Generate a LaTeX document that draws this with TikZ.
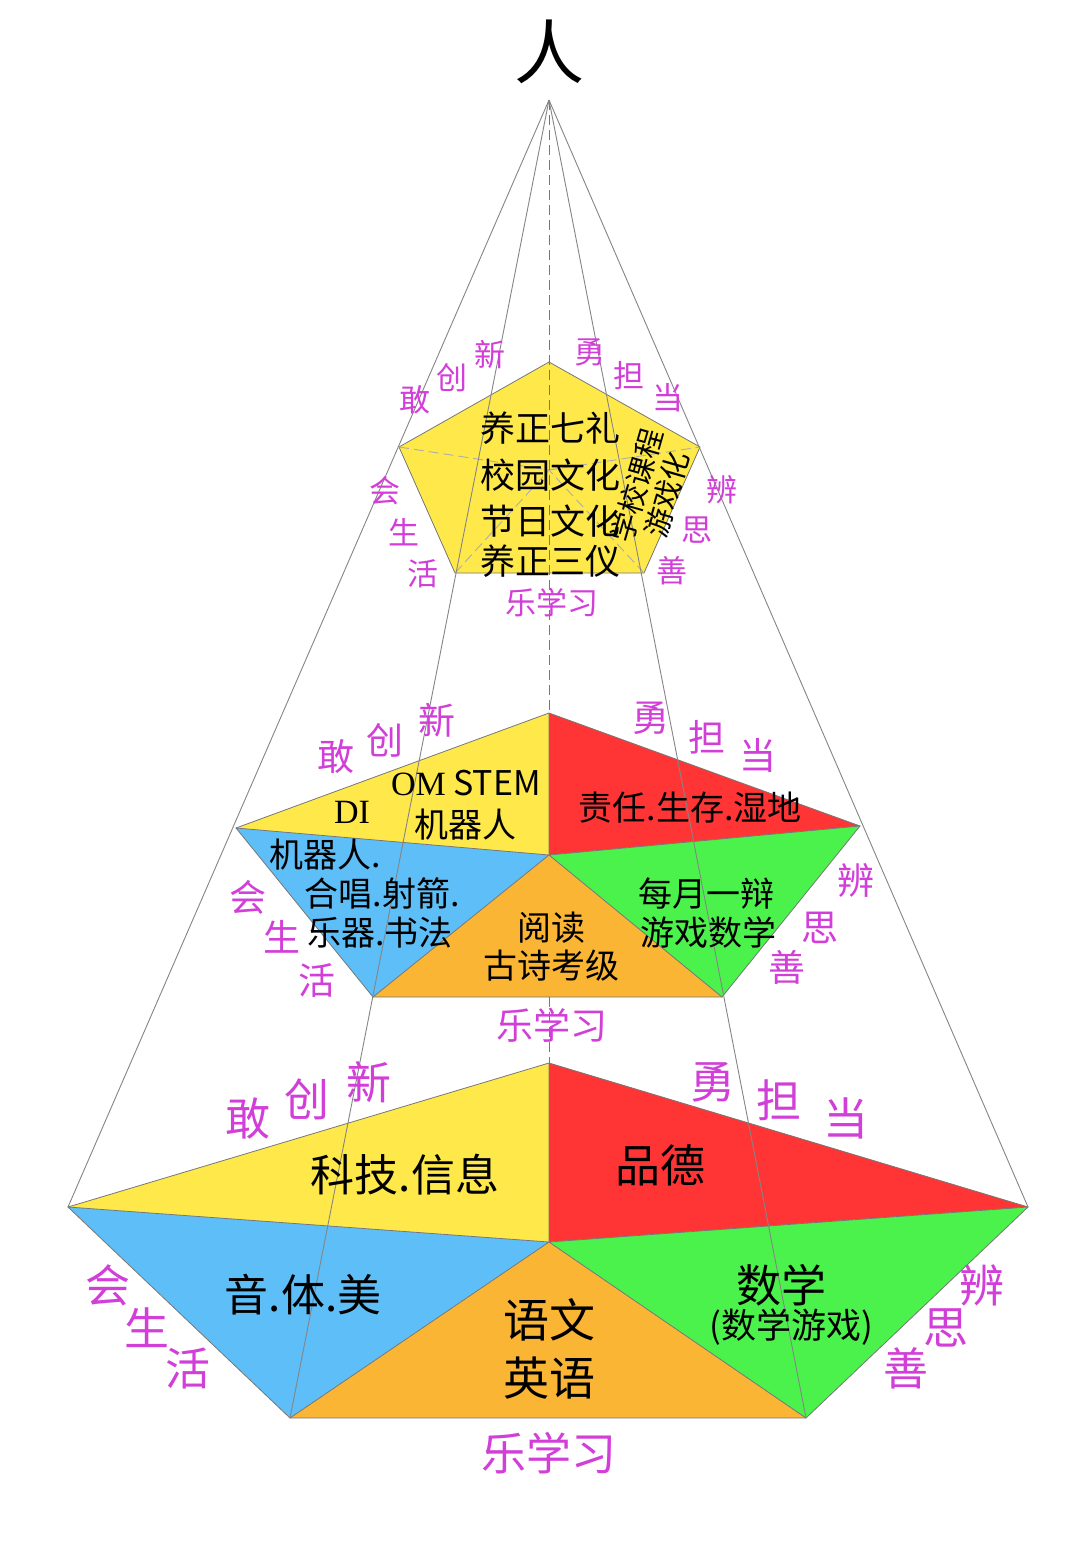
\documentclass[tikz,border=0pt]{standalone}
\usepackage{fontspec}
\setmainfont{Liberation Serif}
\newfontfamily\cjk{Noto Sans CJK SC}
\definecolor{yel}{HTML}{FFE94A}
\definecolor{redf}{HTML}{FF3535}
\definecolor{bluef}{HTML}{5EBEF8}
\definecolor{orf}{HTML}{FAB535}
\definecolor{grf}{HTML}{4CF24C}
\definecolor{mag}{HTML}{D23FD8}
\definecolor{edge}{HTML}{777777}
\tikzset{
  txt/.style={inner sep=0pt, font=\cjk\fontsize{#1}{#1}\selectfont},
  mg/.style={inner sep=0pt, text=mag, font=\cjk\fontsize{#1}{#1}\selectfont},
  side/.style={draw=edge, line width=0.8pt},
  ray/.style={draw=edge!90, line width=0.9pt},
  hid/.style={draw=edge, line width=0.9pt, dash pattern=on 10pt off 5pt},
}
\begin{document}
\begin{tikzpicture}[x=1pt,y=-1pt]
\useasboundingbox (0,0) rectangle (1080,1548);
\fill[white] (0,0) rectangle (1080,1548);
% coordinates
\coordinate (apex) at (549,100);
\coordinate (T1) at (549,1063); \coordinate (L1) at (68,1207); \coordinate (R1) at (1028,1207);
\coordinate (BL1) at (290,1418); \coordinate (BR1) at (806,1418); \coordinate (C1) at (549,1242);
\coordinate (T2) at (549,713); \coordinate (L2) at (236,828); \coordinate (R2) at (860,826);
\coordinate (BL2) at (373,997); \coordinate (BR2) at (722,997); \coordinate (C2) at (549,855);
\coordinate (M2) at (549,997);
\coordinate (T3) at (549,362); \coordinate (L3) at (399,447); \coordinate (R3) at (700,447);
\coordinate (BL3) at (455,573); \coordinate (BR3) at (644,573); \coordinate (C3) at (549,470);
% bottom pentagon
\fill[yel] (T1) -- (L1) -- (C1) -- cycle;
\fill[redf] (T1) -- (R1) -- (C1) -- cycle;
\fill[bluef] (L1) -- (BL1) -- (C1) -- cycle;
\fill[orf] (C1) -- (BL1) -- (BR1) -- cycle;
\fill[grf] (C1) -- (R1) -- (BR1) -- cycle;
\draw[side] (T1) -- (L1) -- (BL1) -- (BR1) -- (R1) -- cycle;
\draw[side] (L1) -- (C1) -- (R1) (BL1) -- (C1) -- (BR1) (T1) -- (C1);
% middle pentagon
\fill[yel] (T2) -- (L2) -- (C2) -- cycle;
\fill[redf] (T2) -- (R2) -- (C2) -- cycle;
\fill[bluef] (L2) -- (BL2) -- (C2) -- cycle;
\fill[orf] (C2) -- (BL2) -- (BR2) -- cycle;
\fill[grf] (C2) -- (R2) -- (BR2) -- cycle;
\draw[side] (T2) -- (L2) -- (BL2) -- (BR2) -- (R2) -- cycle;
\draw[side] (L2) -- (C2) -- (R2) (BL2) -- (C2) -- (BR2) (T2) -- (C2);
% top pentagon
\fill[yel] (T3) -- (L3) -- (BL3) -- (BR3) -- (R3) -- cycle;
\draw[side] (T3) -- (L3) -- (BL3) -- (BR3) -- (R3) -- cycle;
\draw[hid, draw=edge!60] (L3) -- (C3) -- (R3) (BL3) -- (C3) -- (BR3);
% rays from apex
\draw[hid] (apex) -- (T2);
\draw[hid] (M2) -- (T1);
\draw[ray] (apex) -- (L1);
\draw[ray] (apex) -- (R1);
\draw[ray] (apex) -- (BL1);
\draw[ray] (apex) -- (BR1);
% apex label
\node[txt=70] (ren) at (549,52) {人};
% top texts
\node[txt=35] (a1) at (550,428) {养正七礼};
\node[txt=35] (a2) at (550,475) {校园文化};
\node[txt=35] (a3) at (550,521) {节日文化};
\node[txt=35] (a4) at (550,561) {养正三仪};
\node[inner sep=0pt, font=\cjk\fontsize{29}{31}\selectfont, rotate=74, align=center] (a5) at (652,490) {学校课程\\游戏化};
\node[mg=31] (b1) at (415,400) {敢};
\node[mg=31] (b2) at (452,378) {创};
\node[mg=31] (b3) at (490,355) {新};
\node[mg=31] (b4) at (590,352) {勇};
\node[mg=31] (b5) at (629,376) {担};
\node[mg=31] (b6) at (668,398) {当};
\node[mg=31] (b7) at (385,491) {会};
\node[mg=31] (b8) at (404,532) {生};
\node[mg=31] (b9) at (423,574) {活};
\node[mg=31] (b10) at (722,490) {辨};
\node[mg=31] (b11) at (697,530) {思};
\node[mg=31] (b12) at (672,571) {善};
\node[mg=31] (b13) at (552,603) {乐学习};
% middle texts
\node[txt=34] (c1) at (466,783) {{\rmfamily OM} STEM};
\node[txt=34, font=\rmfamily\fontsize{34}{34}\selectfont] (c2) at (352,812) {DI};
\node[txt=34] (c3) at (465,825) {机器人};
\node[txt=34] (c4) at (690,808) {责任.生存.湿地};
\node[txt=34] (c5) at (325,855) {机器人.};
\node[txt=34] (c6) at (382,893) {合唱.射箭.};
\node[txt=34] (c7) at (380,933) {乐器.书法};
\node[txt=34] (c8) at (551,928) {阅读};
\node[txt=34] (c9) at (551,966) {古诗考级};
\node[txt=34] (c10) at (706,893) {每月一辩};
\node[txt=34] (c11) at (708,932) {游戏数学};
\node[mg=37] (d1) at (336,757) {敢};
\node[mg=37] (d2) at (385,740) {创};
\node[mg=37] (d3) at (437,720) {新};
\node[mg=37] (d4) at (651,718) {勇};
\node[mg=37] (d5) at (707,737) {担};
\node[mg=37] (d6) at (758,755) {当};
\node[mg=37] (d7) at (248,897) {会};
\node[mg=37] (d8) at (282,937) {生};
\node[mg=37] (d9) at (317,980) {活};
\node[mg=37] (d10) at (856,880) {辨};
\node[mg=37] (d11) at (820,928) {思};
\node[mg=37] (d12) at (787,967) {善};
\node[mg=37] (d13) at (552,1025) {乐学习};
% bottom texts
\node[txt=44] (e1) at (405,1175) {科技.信息};
\node[txt=45] (e2) at (660,1165) {品德};
\node[txt=44] (e3) at (303,1295) {音.体.美};
\node[txt=46] (e4) at (549,1320) {语文};
\node[txt=46] (e5) at (549,1378) {英语};
\node[txt=45] (e6) at (781,1285) {数学};
\node[txt=35] (e7) at (791,1327) {(数学游戏)};
\node[mg=45] (f1) at (248,1118) {敢};
\node[mg=45] (f2) at (307,1099) {创};
\node[mg=45] (f3) at (369,1082) {新};
\node[mg=45] (f4) at (713,1082) {勇};
\node[mg=45] (f5) at (779,1100) {担};
\node[mg=45] (f6) at (846,1118) {当};
\node[mg=45] (f7) at (108,1285) {会};
\node[mg=45] (f8) at (147,1328) {生};
\node[mg=45] (f9) at (188,1368) {活};
\node[mg=45] (f10) at (982,1285) {辨};
\node[mg=45] (f11) at (946,1328) {思};
\node[mg=45] (f12) at (906,1368) {善};
\node[mg=45] (f13) at (549,1453) {乐学习};
\end{tikzpicture}
\end{document}
